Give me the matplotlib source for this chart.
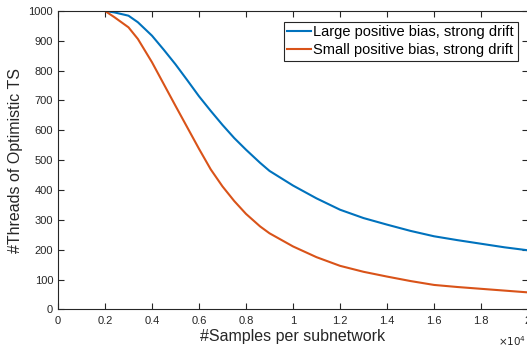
import matplotlib
matplotlib.use("AGG")
import matplotlib.pyplot as plt
from matplotlib.ticker import FuncFormatter

plt.rcParams["font.family"] = ["Liberation Sans", "DejaVu Sans"]

# samples per subnetwork vs. number of optimistic threads
samples_large = [0, 2000, 2400, 3000, 3400, 4000, 4500, 5000, 5500, 6000, 6500, 7000, 7500,
                 8000, 8600, 9000, 10000, 11000, 12000, 13000, 14000, 15000, 16000,
                 17000, 18000, 19000, 20000]
threads_large = [1000, 1000, 995, 984, 962, 917, 870, 821, 768, 714, 665, 618, 574,
                 535, 491, 464, 415, 372, 334, 306, 284, 263, 245,
                 232, 220, 208, 198]

samples_small = [0, 2000, 2400, 3000, 3400, 4000, 4500, 5000, 5500, 6000, 6500, 7000, 7500,
                 8000, 8600, 9000, 10000, 11000, 12000, 13000, 14000, 15000, 16000,
                 17000, 18000, 19000, 20000]
threads_small = [1000, 1000, 979, 945, 906, 828, 755, 682, 610, 538, 469, 412, 363,
                 320, 278, 255, 211, 175, 146, 126, 110, 95, 82,
                 75, 69, 63, 57]

labels = ["Large positive bias, strong drift", "Small positive bias, strong drift"]

fig = plt.figure(figsize=(5.27, 3.52), dpi=100)
ax = fig.add_axes([0.110, 0.121, 0.892, 0.848])

ax.plot(samples_large, threads_large, color="#0072BD", lw=1.5, label=labels[0])
ax.plot(samples_small, threads_small, color="#D95319", lw=1.5, label=labels[1])

ax.set_xlim(0, 20000)
ax.set_ylim(0, 1000)
ax.set_xticks(range(0, 20001, 2000))
ax.set_yticks(range(0, 1001, 100))
ax.xaxis.set_major_formatter(FuncFormatter(lambda v, p: "%g" % (v / 1e4)))

ax.tick_params(direction="in", length=4, width=0.8, top=True, right=True,
               labelsize=8, colors="#262626")
ax.tick_params(axis="x", pad=5)
ax.tick_params(axis="y", pad=3.5)
for s in ax.spines.values():
    s.set_color("#262626")
    s.set_linewidth(0.8)

# exponent for the x axis, sits under the last tick label
ax.text(0.9957, -0.105, r"$\times10^{4}$", transform=ax.transAxes, ha="right", va="center",
        fontsize=7.5, color="#262626")

ax.set_xlabel("#Samples per subnetwork", fontsize=11.5, color="#262626", labelpad=2)
ax.set_ylabel("#Threads of Optimistic TS", fontsize=11.5, color="#262626", labelpad=4)

leg = ax.legend(loc="upper right", bbox_to_anchor=(0.978, 0.964), fontsize=10.5,
                fancybox=False, edgecolor="#262626", framealpha=1,
                handlelength=1.6, handletextpad=0.2, borderpad=0.25,
                labelspacing=0.25, borderaxespad=0)
leg.get_frame().set_linewidth(0.8)

plt.savefig("out.png", dpi=100)
